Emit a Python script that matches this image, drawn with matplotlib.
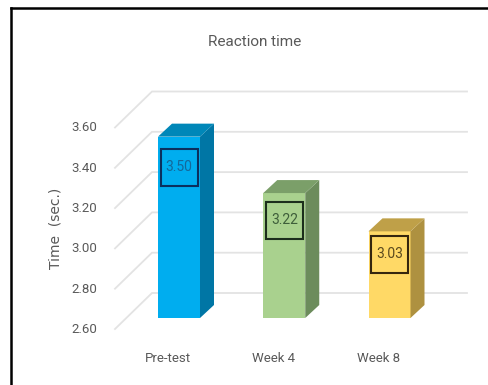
import matplotlib
matplotlib.use('Agg')
import matplotlib.pyplot as plt
from matplotlib.patches import Polygon, Rectangle
from matplotlib.lines import Line2D

# Datos
categorias = ['Pre-test', 'Week 4', 'Week 8']
tiempos = [3.50, 3.22, 3.03]
marcas_y = [2.60, 2.80, 3.00, 3.20, 3.40, 3.60]

# Colores de cada barra
col_frente = ['#00ADEF', '#A9D18E', '#FFD966']
col_lado = ['#0076A5', '#6C8C5C', '#AE9140']
col_tapa = ['#0087B8', '#7B9F69', '#BFA048']
col_borde = ['#0B2F5E', '#1C2E1C', '#35260E']
col_numero = ['#14689A', '#3E5E3A', '#5B4A1E']
centro_caja = [3.349, 3.086, 2.917]

# Escala: pixeles por categoria y por unidad de tiempo
px_x = 105.25
px_y = 201.5
base = 2.60
W, H = 488, 385
x0, y0 = 179, 318

plt.rcParams['font.family'] = ['Roboto', 'DejaVu Sans']
fig = plt.figure(figsize=(W / 100, H / 100), dpi=100, facecolor='white')
ax = fig.add_axes([0, 0, 1, 1])
ax.set_xlim(-x0 / px_x, (W - x0) / px_x)
ax.set_ylim(base - (H - y0) / px_y, base + y0 / px_y)
ax.axis('off')


def dx(p):
    return p / px_x


def dy(p):
    return p / px_y


ancho = dx(42)
prof_x, prof_y = dx(14), dy(13)

# Lineas de la cuadricula, con el tramo del suelo hacia el frente
gx_frente = dx(115 - x0)
gx_fondo = dx(152 - x0)
gx_fin = dx(467 - x0)
for v in marcas_y:
    ax.plot([gx_frente, gx_fondo, gx_fin], [v - dy(11), v + dy(25), v + dy(25)],
            color='#E3E3E3', lw=1.3, zorder=1, solid_joinstyle='miter')
    ax.text(dx(97 - x0), v - dy(11.5), f'{v:.2f}', ha='right', va='center',
            fontsize=9.5, color='#595959')

# Barras con cara frontal, lateral y tapa
ax.bar(range(3), [t - base for t in tiempos], bottom=base, width=ancho,
       color=col_frente, zorder=3)
for i, t in enumerate(tiempos):
    der = i + ancho / 2
    izq = i - ancho / 2
    ax.add_patch(Polygon([(der, base), (der + prof_x, base + prof_y),
                          (der + prof_x, t + prof_y), (der, t)],
                         facecolor=col_lado[i], zorder=3))
    ax.add_patch(Polygon([(izq, t), (izq + prof_x, t + prof_y),
                          (der + prof_x, t + prof_y), (der, t)],
                         facecolor=col_tapa[i], zorder=3))
    # Caja con el valor
    lado_x, lado_y = dx(37), dy(37)
    ax.add_patch(Rectangle((i - lado_x / 2, centro_caja[i] - lado_y / 2),
                           lado_x, lado_y, fill=False, ec=col_borde[i],
                           lw=1.5, zorder=4))
    ax.text(i, centro_caja[i], f'{t:.2f}', ha='center', va='center',
            fontsize=10, color=col_numero[i], zorder=5)
    ax.text(i - dx(11), base - dy(40), categorias[i], ha='center', va='center',
            fontsize=9.5, color='#595959')

# Titulo y eje
ax.text(dx(255 - x0), base + dy(y0 - 42), 'Reaction time', ha='center',
        va='center', fontsize=11, color='#595959')
ax.text(dx(55 - x0), base + dy(y0 - 228), 'Time  (sec.)', rotation=90,
        ha='center', va='center', fontsize=10, color='#595959',
        family='DejaVu Sans')

# Marco superior e izquierdo
ax.add_line(Line2D([dx(11 - x0), dx(488 - x0)], [base + dy(y0 - 8)] * 2,
                   color='black', lw=1.8))
ax.add_line(Line2D([dx(11 - x0)] * 2, [base + dy(y0 - 8), base + dy(y0 - 385)],
                   color='black', lw=1.8))

fig.savefig('out.png', dpi=100)
